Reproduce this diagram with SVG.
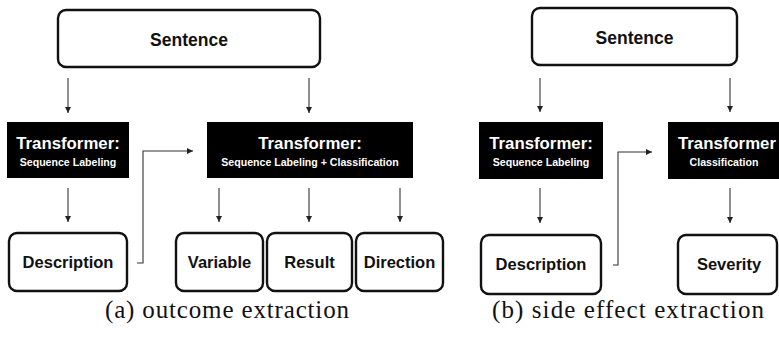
<svg xmlns="http://www.w3.org/2000/svg" width="779" height="347" viewBox="0 0 779 347">
  <defs>
    <marker id="arrow" viewBox="0 0 6 6" refX="6" refY="3" markerWidth="6" markerHeight="6" markerUnits="userSpaceOnUse" orient="auto">
      <path d="M0,0 L6,3 L0,6 Z" fill="#222"/>
    </marker>
    <style>
      .box { fill: #fff; stroke: #111; stroke-width: 2.4; }
      .dark { fill: #000; }
      .lbl { font-family: "Liberation Sans", Arial, sans-serif; font-weight: bold; font-size: 16.5px; fill: #111; text-anchor: middle; }
      .ttl { font-family: "Liberation Sans", Arial, sans-serif; font-weight: bold; font-size: 16.8px; fill: #fff; text-anchor: middle; }
      .sub { font-family: "Liberation Sans", Arial, sans-serif; font-weight: bold; font-size: 10.6px; fill: #fff; text-anchor: middle; }
      .cap { font-family: "Liberation Serif", "Times New Roman", serif; font-size: 25px; fill: #111; text-anchor: middle; }
      .edge { fill: none; stroke: #333; stroke-width: 1.1; marker-end: url(#arrow); }
    </style>
  </defs>
  <rect width="779" height="347" fill="#fff"/>

  <!-- (a) outcome extraction -->
  <g id="a-sentence">
    <rect class="box" x="58" y="10" width="262" height="57" rx="8"/>
    <text class="lbl" x="189" y="46" style="font-size:17.5px">Sentence</text>
  </g>
  <g id="a-transformer-seq">
    <rect class="dark" x="7" y="122" width="122" height="56"/>
    <text class="ttl" x="68" y="149">Transformer:</text>
    <text class="sub" x="68" y="166">Sequence Labeling</text>
  </g>
  <g id="a-transformer-seqcls">
    <rect class="dark" x="207" y="122" width="206" height="56"/>
    <text class="ttl" x="310" y="149">Transformer:</text>
    <text class="sub" x="310" y="166">Sequence Labeling + Classification</text>
  </g>
  <g id="a-description">
    <rect class="box" x="9" y="233" width="118" height="58" rx="8"/>
    <text class="lbl" x="68" y="268">Description</text>
  </g>
  <g id="a-variable">
    <rect class="box" x="176" y="233" width="87" height="58" rx="8"/>
    <text class="lbl" x="219.5" y="268">Variable</text>
  </g>
  <g id="a-result">
    <rect class="box" x="267" y="233" width="85" height="58" rx="8"/>
    <text class="lbl" x="309.5" y="268">Result</text>
  </g>
  <g id="a-direction">
    <rect class="box" x="356" y="233" width="87" height="58" rx="8"/>
    <text class="lbl" x="399.5" y="268">Direction</text>
  </g>

  <!-- (b) side effect extraction -->
  <g id="b-sentence">
    <rect class="box" x="532" y="8" width="205" height="57" rx="8"/>
    <text class="lbl" x="634.5" y="44" style="font-size:17.5px">Sentence</text>
  </g>
  <g id="b-transformer-seq">
    <rect class="dark" x="479" y="122" width="124" height="57"/>
    <text class="ttl" x="541" y="149">Transformer:</text>
    <text class="sub" x="541" y="166">Sequence Labeling</text>
  </g>
  <g id="b-transformer-cls">
    <rect class="dark" x="668" y="122" width="124" height="57"/>
    <text class="ttl" x="678" y="149" style="text-anchor:start">Transformer</text>
    <text class="sub" x="724" y="166">Classification</text>
  </g>
  <g id="b-description">
    <rect class="box" x="481" y="235" width="120" height="59" rx="8"/>
    <text class="lbl" x="541" y="270">Description</text>
  </g>
  <g id="b-severity">
    <rect class="box" x="678" y="235" width="99" height="59" rx="8"/>
    <text class="lbl" x="729" y="270">Severity</text>
  </g>

  <!-- connectors -->
  <g id="connectors">
    <line class="edge" x1="68" y1="78" x2="68" y2="113"/>
    <line class="edge" x1="309" y1="78" x2="309" y2="113"/>
    <line class="edge" x1="68" y1="188" x2="68" y2="222"/>
    <line class="edge" x1="219" y1="188" x2="219" y2="222"/>
    <line class="edge" x1="309" y1="188" x2="309" y2="222"/>
    <line class="edge" x1="400" y1="188" x2="400" y2="222"/>
    <polyline class="edge" points="137,263 143,263 143,151 193,151"/>

    <line class="edge" x1="540" y1="78" x2="540" y2="112"/>
    <line class="edge" x1="730" y1="78" x2="730" y2="112"/>
    <line class="edge" x1="540" y1="188" x2="540" y2="223"/>
    <line class="edge" x1="730" y1="188" x2="730" y2="223"/>
    <polyline class="edge" points="613,265 618,265 618,152 652,152"/>
  </g>

  <!-- captions -->
  <text class="cap" x="227" y="318" textLength="244" lengthAdjust="spacing">(a) outcome extraction</text>
  <text class="cap" x="628" y="318" textLength="272" lengthAdjust="spacing">(b) side effect extraction</text>
</svg>
